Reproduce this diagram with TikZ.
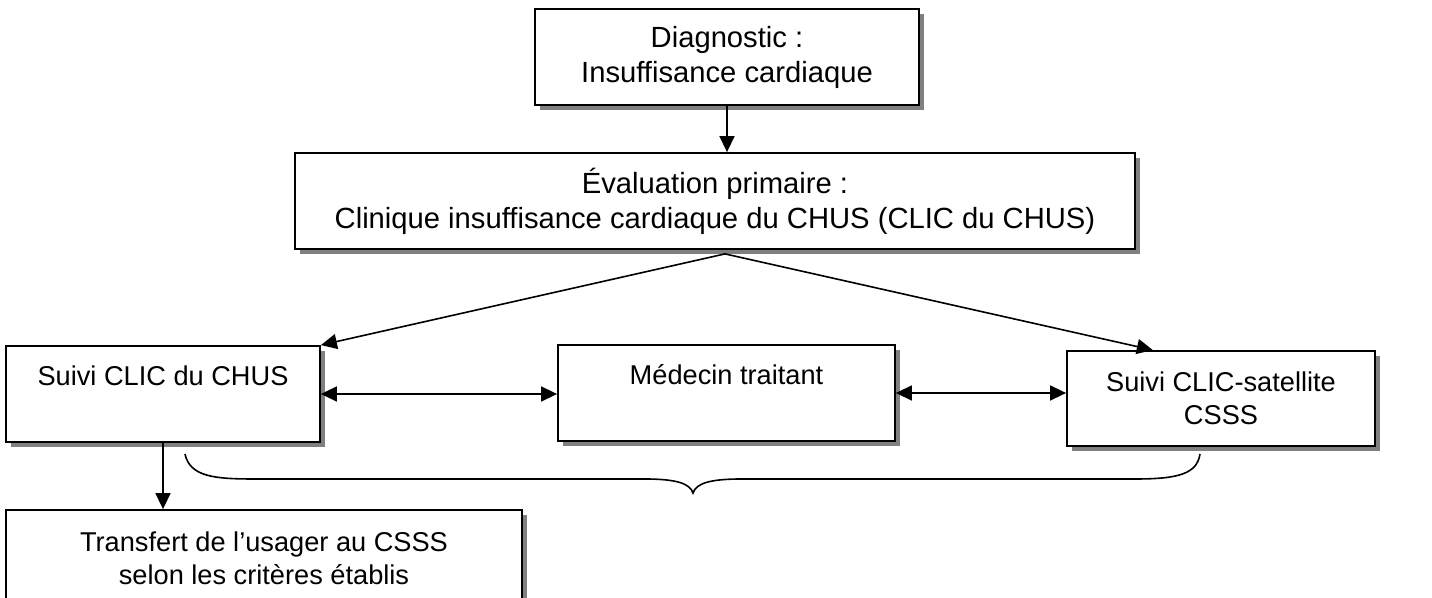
\documentclass[tikz,border=0pt]{standalone}
\usepackage{fontspec}
\setmainfont{Liberation Sans}
\usetikzlibrary{arrows.meta,shadows,calc}

\tikzstyle{box} = [draw, line width=0.9pt, fill=white, align=center, inner sep=0pt,
    font=\fontsize{13.6}{16.5}\selectfont,
    drop shadow={shadow xshift=2.5pt, shadow yshift=-2.5pt, fill=black!50, opacity=1}]
\tikzstyle{bigbox} = [box, font=\fontsize{14.6}{17.5}\selectfont]
\tikzstyle{arr} = [-{Triangle[length=8pt,width=7.5pt]}, line width=0.8pt]
\tikzstyle{dblarr} = [{Triangle[length=8pt,width=7.5pt]}-{Triangle[length=8pt,width=7.5pt]}, line width=0.8pt]

\begin{document}
\begin{tikzpicture}[x=0.5pt, y=-0.5pt]
\useasboundingbox (0,0) rectangle (1432,598);
\clip (0,0) rectangle (1432,598);

\node[bigbox, minimum width=192pt, minimum height=48pt] (diag) at (727,57)
    {Diagnostic :\\Insuffisance cardiaque};
\node[bigbox, minimum width=420pt, minimum height=48pt] (eval) at (715,201)
    {Évaluation primaire :\\Clinique insuffisance cardiaque du CHUS (CLIC du CHUS)};
\node[box, minimum width=157pt, minimum height=48pt] (chus) at (163,394)
    {Suivi CLIC du CHUS\\[2pt]~};
\node[box, minimum width=168.5pt, minimum height=48pt] (med) at (726.5,393)
    {Médecin traitant\\[2pt]~};
\node[box, minimum width=154pt, minimum height=47.5pt] (sat) at (1221,398.5)
    {Suivi CLIC-satellite\\CSSS};
\node[box, minimum width=258pt, minimum height=48pt] (trans) at (264,558)
    {Transfert de l’usager au CSSS\\selon les critères établis};

\draw[arr] (diag.south) -- (diag.south |- eval.north);

\coordinate (fork) at ($(eval.south)+(10,4)$);
\draw[arr] (fork) -- (chus.north east);
\draw[arr] (fork) -- ($(sat.north west)!0.28!(sat.north east)$);

\draw[dblarr] (chus.east) -- (chus.east -| med.west);
\draw[dblarr] (med.east) -- (med.east -| sat.west);

\draw[arr] (chus.south) -- (chus.south |- trans.north);

% brace under the three follow-up boxes
\coordinate (bl) at (185,454);
\coordinate (br) at (1200,454);
\coordinate (tip) at (693,493);
\draw[line width=0.8pt] (bl) .. controls (190,477) and (215,479) .. (255,479)
    -- (645,479) .. controls (678,479) and (690,484) .. (tip)
    .. controls (696,484) and (708,479) .. (741,479)
    -- (1135,479) .. controls (1178,479) and (1197,474) .. (br);
\end{tikzpicture}
\end{document}
